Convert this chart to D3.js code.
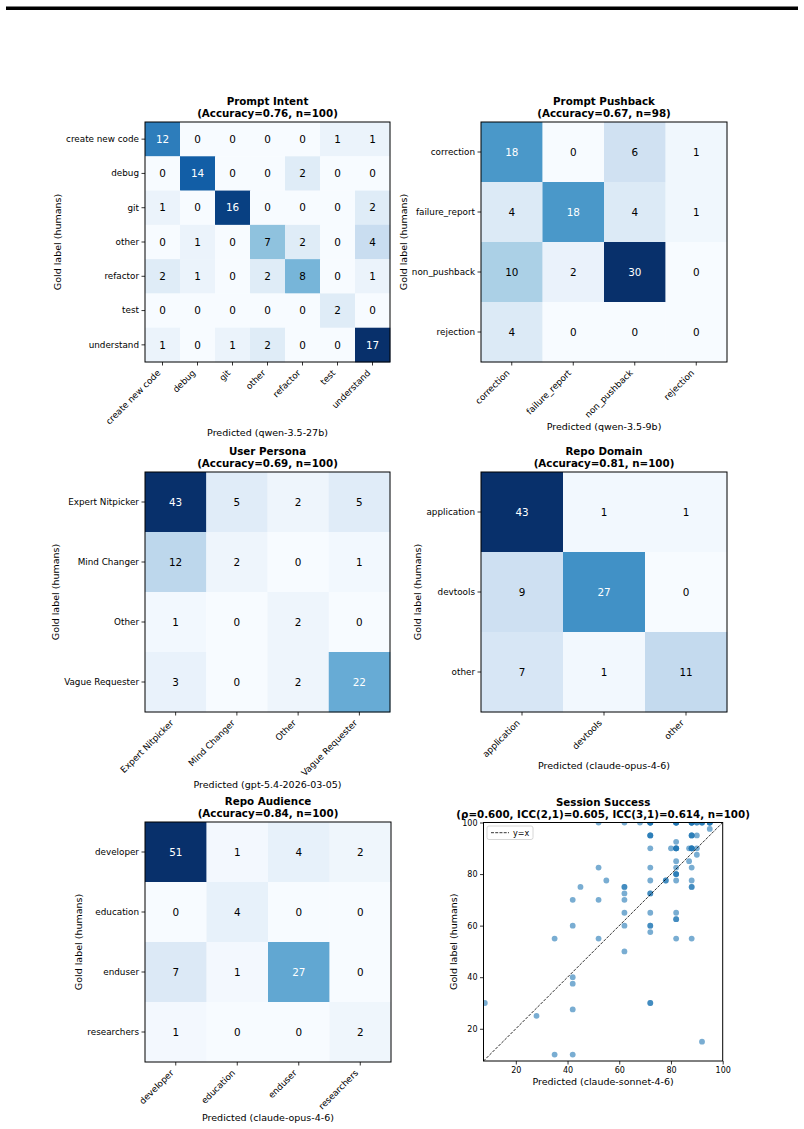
<!DOCTYPE html>
<html><head><meta charset="utf-8">
<script src="https://cdn.jsdelivr.net/npm/d3@7"></script>
<style>
body{margin:0;background:#fff;}
svg{display:block;font-family:"DejaVu Sans",sans-serif;}
</style></head><body>
<svg id="chart" width="804" height="1129"></svg>
<script>
// ---------------- DATA ----------------
const intentLabels = ["create new code","debug","git","other","refactor","test","understand"];
const intentMatrix = [
  [12,0,0,0,0,1,1],
  [0,14,0,0,2,0,0],
  [1,0,16,0,0,0,2],
  [0,1,0,7,2,0,4],
  [2,1,0,2,8,0,1],
  [0,0,0,0,0,2,0],
  [1,0,1,2,0,0,17]
];
const pushbackLabels = ["correction","failure_report","non_pushback","rejection"];
const pushbackMatrix = [
  [18,0,6,1],
  [4,18,4,1],
  [10,2,30,0],
  [4,0,0,0]
];
const personaLabels = ["Expert Nitpicker","Mind Changer","Other","Vague Requester"];
const personaMatrix = [
  [43,5,2,5],
  [12,2,0,1],
  [1,0,2,0],
  [3,0,2,22]
];
const domainLabels = ["application","devtools","other"];
const domainMatrix = [
  [43,1,1],
  [9,27,0],
  [7,1,11]
];
const audienceLabels = ["developer","education","enduser","researchers"];
const audienceMatrix = [
  [51,1,4,2],
  [0,4,0,0],
  [7,1,27,0],
  [1,0,0,2]
];
const panelTitles = ["Prompt Intent","Prompt Pushback","User Persona","Repo Domain","Repo Audience","Session Success"];
const panelSubtitles = ["(Accuracy=0.76, n=100)","(Accuracy=0.67, n=98)","(Accuracy=0.69, n=100)","(Accuracy=0.81, n=100)","(Accuracy=0.84, n=100)","(\u03c1=0.600, ICC(2,1)=0.605, ICC(3,1)=0.614, n=100)"];
const predictorModels = ["qwen-3.5-27b","qwen-3.5-9b","gpt-5.4-2026-03-05","claude-opus-4-6","claude-opus-4-6","claude-sonnet-4-6"];
const goldAxisLabel = "Gold label (humans)";

// Session success scatter: predicted score vs human gold score
const sessionPred = [
  52,62,68,72,72,72,72,72,82,82,82,82,82,88,88,88,88,88,90,90,92,92,92,95,95,95,95,
  95,
  72,72,72,88,88,88,90,
  82,
  72,80,82,82,82,82,87,88,88,88,88,90,
  90,
  82,87,
  52,72,82,88,
  82,82,82,
  55,72,78,78,82,88,
  45,62,62,88,88,
  62,72,72,
  42,52,62,
  62,72,82,
  82,82,
  42,62,72,72,
  72,
  35,52,82,88,
  62,
  42,
  42,
  8,72,72,
  42,
  28,
  92,
  35,42
];
const sessionGold = [
  100,100,100,100,100,100,100,100,100,100,100,100,100,100,100,100,100,100,100,100,100,100,100,100,100,100,100,
  97.5,
  95,95,95,95,95,95,95,
  92.5,
  90,90,90,90,90,90,90,90,90,90,90,90,
  87.5,
  85,85,
  82.5,82.5,82.5,82.5,
  80,80,80,
  77.5,77.5,77.5,77.5,77.5,77.5,
  75,75,75,75,75,
  72.5,72.5,72.5,
  70,70,70,
  65,65,65,
  62.5,62.5,
  60,60,60,60,
  57.5,
  55,55,55,55,
  50,
  40,
  37.5,
  30,30,30,
  27.5,
  25,
  15,
  10,10
];
const scatterTicks = [20,40,60,80,100];
const legendLabel = "y=x";

// ---------------- LAYOUT ----------------
const blues = ["#f7fbff","#deebf7","#c6dbef","#9ecae1","#6baed6","#4292c6","#2171b5","#08519c","#08306b"];
const FS_TICK = 8.8, FS_CELL = 10.4, FS_LABEL = 9.5, FS_TITLE = 10.3;
const svg = d3.select("#chart");

svg.append("rect").attr("x",6).attr("y",6.5).attr("width",792).attr("height",3.5).attr("fill","#000");

function title(g, cx, top, t1, t2){
  g.append("text").attr("x",cx).attr("y",top-5-11.6).attr("text-anchor","middle")
    .attr("font-size",FS_TITLE).attr("font-weight","bold").attr("fill","#000").text(t1);
  g.append("text").attr("x",cx).attr("y",top-5).attr("text-anchor","middle")
    .attr("font-size",FS_TITLE).attr("font-weight","bold").attr("fill","#000").text(t2);
}

function heatmap(box, labels, matrix, idx){
  const {left, top, w, h} = box;
  const g = svg.append("g");
  const x = d3.scaleBand().domain(labels).range([left, left+w]);
  const y = d3.scaleBand().domain(labels).range([top, top+h]);
  const vmax = d3.max(matrix.flat());
  const color = d3.scaleLinear().domain(d3.range(9).map(i => i*vmax/8)).range(blues).clamp(true);
  const cells = [];
  matrix.forEach((row,i) => row.forEach((v,j) => cells.push({r:labels[i], c:labels[j], v})));
  g.selectAll("rect.cell").data(cells).join("rect").attr("class","cell")
    .attr("x", d => x(d.c)).attr("y", d => y(d.r))
    .attr("width", x.bandwidth()+0.3).attr("height", y.bandwidth()+0.3)
    .attr("fill", d => color(d.v));
  g.selectAll("text.val").data(cells).join("text").attr("class","val")
    .attr("x", d => x(d.c)+x.bandwidth()/2).attr("y", d => y(d.r)+y.bandwidth()/2)
    .attr("dy","0.36em").attr("text-anchor","middle").attr("font-size",FS_CELL)
    .attr("fill", d => d.v > vmax/2 ? "#fff" : "#000").text(d => d.v);
  g.append("rect").attr("x",left).attr("y",top).attr("width",w).attr("height",h)
    .attr("fill","none").attr("stroke","#000").attr("stroke-width",1);

  const ya = g.append("g").attr("transform",`translate(${left},0)`)
    .call(d3.axisLeft(y).tickSize(3.5).tickPadding(2.5));
  ya.select(".domain").remove();
  ya.selectAll("text").attr("font-size",FS_TICK).attr("font-family","DejaVu Sans").attr("fill","#000");
  ya.selectAll("line").attr("stroke","#000").attr("stroke-width",0.8);
  let maxW = 0;
  ya.selectAll("text").each(function(){ maxW = Math.max(maxW, this.getComputedTextLength()); });

  const xa = g.append("g").attr("transform",`translate(0,${top+h})`)
    .call(d3.axisBottom(x).tickSize(3.5));
  xa.select(".domain").remove();
  xa.selectAll("line").attr("stroke","#000").attr("stroke-width",0.8);
  xa.selectAll("text").attr("font-size",FS_TICK).attr("font-family","DejaVu Sans").attr("fill","#000")
    .attr("x",0).attr("y",0).attr("dy",0).attr("text-anchor","end")
    .attr("transform","translate(-1.5,11.5) rotate(-45)");
  const bb = xa.node().getBBox();

  g.append("text").attr("transform",`translate(${left-maxW-11},${top+h/2}) rotate(-90)`)
    .attr("text-anchor","middle").attr("font-size",FS_LABEL).attr("fill","#000").text(goldAxisLabel);
  g.append("text").attr("x",left+w/2).attr("y",top+h+bb.y+bb.height+10)
    .attr("text-anchor","middle").attr("font-size",FS_LABEL).attr("fill","#000")
    .text(`Predicted (${predictorModels[idx]})`);
  title(g, left+w/2, top, panelTitles[idx], panelSubtitles[idx]);
}

heatmap({left:145, top:122, w:245, h:240}, intentLabels, intentMatrix, 0);
heatmap({left:481, top:122, w:246, h:240}, pushbackLabels, pushbackMatrix, 1);
heatmap({left:145, top:472, w:245, h:240}, personaLabels, personaMatrix, 2);
heatmap({left:481, top:472, w:246, h:240}, domainLabels, domainMatrix, 3);
heatmap({left:145, top:822, w:246, h:240}, audienceLabels, audienceMatrix, 4);

// ---------------- SCATTER ----------------
(function(){
  const left = 483.5, top = 822.5, w = 239.2, h = 238.5;
  const g = svg.append("g");
  const lo = Math.min(d3.min(sessionPred), d3.min(sessionGold)) - 0.5;
  const x = d3.scaleLinear().domain([lo,100]).range([left,left+w]);
  const y = d3.scaleLinear().domain([lo,100]).range([top+h,top]);
  const clipId = "sclip";
  g.append("clipPath").attr("id",clipId).append("rect").attr("x",left).attr("y",top).attr("width",w).attr("height",h);
  const pts = sessionPred.map((p,i) => ({p, gd: sessionGold[i]}));
  g.append("g").attr("clip-path",`url(#${clipId})`).selectAll("circle").data(pts).join("circle")
    .attr("cx", d => x(d.p)).attr("cy", d => y(d.gd)).attr("r",2.9)
    .attr("fill","#1f77b4").attr("fill-opacity",0.6);
  g.append("line").attr("x1",x(lo)).attr("y1",y(lo)).attr("x2",x(100)).attr("y2",y(100))
    .attr("stroke","#000").attr("stroke-width",0.8).attr("stroke-dasharray","2.96,1.28");
  g.append("rect").attr("x",left).attr("y",top).attr("width",w).attr("height",h)
    .attr("fill","none").attr("stroke","#000").attr("stroke-width",1);
  const xa = g.append("g").attr("transform",`translate(0,${top+h})`)
    .call(d3.axisBottom(x).tickValues(scatterTicks).tickSize(3.5).tickPadding(2.5));
  const ya = g.append("g").attr("transform",`translate(${left},0)`)
    .call(d3.axisLeft(y).tickValues(scatterTicks).tickSize(3.5).tickPadding(2.5));
  [xa,ya].forEach(a => {
    a.select(".domain").remove();
    a.selectAll("line").attr("stroke","#000").attr("stroke-width",0.8);
    a.selectAll("text").attr("font-size",8).attr("font-family","DejaVu Sans").attr("fill","#000");
  });
  let maxW = 0;
  ya.selectAll("text").each(function(){ maxW = Math.max(maxW, this.getComputedTextLength()); });
  g.append("text").attr("transform",`translate(${left-maxW-11},${top+h/2}) rotate(-90)`)
    .attr("text-anchor","middle").attr("font-size",FS_LABEL).attr("fill","#000").text(goldAxisLabel);
  g.append("text").attr("x",left+w/2).attr("y",top+h+24)
    .attr("text-anchor","middle").attr("font-size",FS_LABEL).attr("fill","#000")
    .text(`Predicted (${predictorModels[5]})`);
  title(g, left+w/2, top, panelTitles[5], panelSubtitles[5]);
  // legend
  const lg = g.append("g");
  lg.append("rect").attr("x",left+3.5).attr("y",top+3.5).attr("width",46).attr("height",13.5)
    .attr("rx",2).attr("fill","#fff").attr("fill-opacity",0.8).attr("stroke","#ccc").attr("stroke-width",0.8);
  lg.append("line").attr("x1",left+7.5).attr("x2",left+25.5).attr("y1",top+10.2).attr("y2",top+10.2)
    .attr("stroke","#000").attr("stroke-width",0.8).attr("stroke-dasharray","2.96,1.28");
  lg.append("text").attr("x",left+29.5).attr("y",top+13).attr("font-size",8).attr("fill","#000").text(legendLabel);
})();
</script>
</body></html>
